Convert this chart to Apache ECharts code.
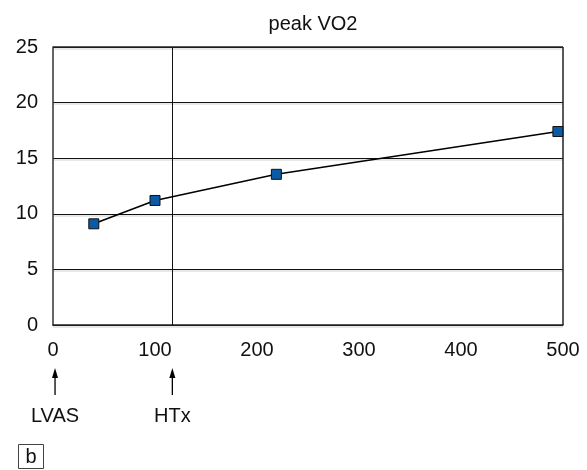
<!DOCTYPE html>
<html>
<head>
<meta charset="utf-8">
<script src="https://cdn.jsdelivr.net/npm/echarts@6/dist/echarts.min.js"></script>
<style>
  html, body { margin: 0; padding: 0; background: #fff; }
  #chart { width: 587px; height: 470px; }
</style>
</head>
<body>
<div id="chart"></div>
<script>
// values
const xValues = [40, 100, 219, 495]
const peakVO2 = [9.1, 11.2, 13.55, 17.4]
const xTicks = [0, 100, 200, 300, 400, 500]
const yTicks = [0, 5, 10, 15, 20, 25]
const markerLabels = ['LVAS', 'HTx']
const markerX = [2, 117]
const dividerX = 117

const FONT = '"Liberation Sans", Arial, sans-serif'

const chart = echarts.init(document.getElementById('chart'))

chart.setOption({
  animation: false,
  title: {
    text: 'peak VO2',
    left: 308,
    textAlign: 'center',
    top: 9,
    textStyle: { fontFamily: FONT, fontSize: 20, fontWeight: 'normal', color: '#111' },
  },
  grid: { left: 53, right: 24, top: 47, bottom: 145 },
  xAxis: {
    type: 'value',
    min: xTicks[0],
    max: xTicks[xTicks.length - 1],
    interval: 100,
    axisLine: { show: true, lineStyle: { color: '#222', width: 1.5 } },
    axisTick: { show: false },
    splitLine: { show: false },
    axisLabel: { fontFamily: FONT, fontSize: 20, color: '#111', margin: 15 },
  },
  yAxis: {
    type: 'value',
    min: yTicks[0],
    max: yTicks[yTicks.length - 1],
    interval: 5,
    axisLine: { show: true, lineStyle: { color: '#333', width: 1.5 } },
    axisTick: { show: false },
    splitLine: {
      show: true,
      lineStyle: { color: '#111', width: 1, shadowColor: 'rgba(0,0,0,0.18)', shadowOffsetY: 1.5 },
    },
    axisLabel: { fontFamily: FONT, fontSize: 20, color: '#111', margin: 15 },
  },
  series: [
    {
      type: 'line',
      data: xValues.map((x, i) => [x, peakVO2[i]]),
      symbol: 'rect',
      symbolSize: 10,
      lineStyle: { color: '#000', width: 1.6 },
      itemStyle: { color: '#0a5aa6', borderColor: '#111', borderWidth: 1 },
      z: 5,
      markLine: {
        silent: true,
        symbol: 'none',
        label: { show: false },
        lineStyle: { color: '#111', width: 1, type: 'solid' },
        data: [{ xAxis: dividerX }],
      },
    },
  ],
})

// right/top frame edges, arrows, labels and panel tag
const rect = chart.getModel().getComponent('grid').coordinateSystem.getRect()
const graphics = [
  {
    type: 'line',
    shape: { x1: rect.x + rect.width, y1: rect.y, x2: rect.x + rect.width, y2: rect.y + rect.height },
    style: { stroke: '#222', lineWidth: 1.5 },
  },
  {
    type: 'line',
    shape: { x1: rect.x, y1: rect.y, x2: rect.x + rect.width, y2: rect.y },
    style: { stroke: '#222', lineWidth: 1.5 },
  },
]
markerLabels.forEach((name, i) => {
  const px = chart.convertToPixel({ xAxisIndex: 0 }, markerX[i])
  graphics.push(
    { type: 'line', shape: { x1: px, y1: 395, x2: px, y2: 376 }, style: { stroke: '#000', lineWidth: 1.3 } },
    { type: 'polygon', shape: { points: [[px, 368], [px - 3, 378], [px + 3, 378]] }, style: { fill: '#000' } },
    {
      type: 'text',
      x: px,
      y: 416,
      style: { text: name, fontFamily: FONT, fontSize: 20, fill: '#111', align: 'center', verticalAlign: 'middle' },
    }
  )
})
graphics.push(
  { type: 'rect', shape: { x: 18.5, y: 444.5, width: 25, height: 24 }, style: { fill: '#fff', stroke: '#444', lineWidth: 1 } },
  {
    type: 'text',
    x: 31,
    y: 457,
    style: { text: 'b', fontFamily: FONT, fontSize: 20, fill: '#111', align: 'center', verticalAlign: 'middle' },
  }
)
chart.setOption({ graphic: graphics })
</script>
</body>
</html>
